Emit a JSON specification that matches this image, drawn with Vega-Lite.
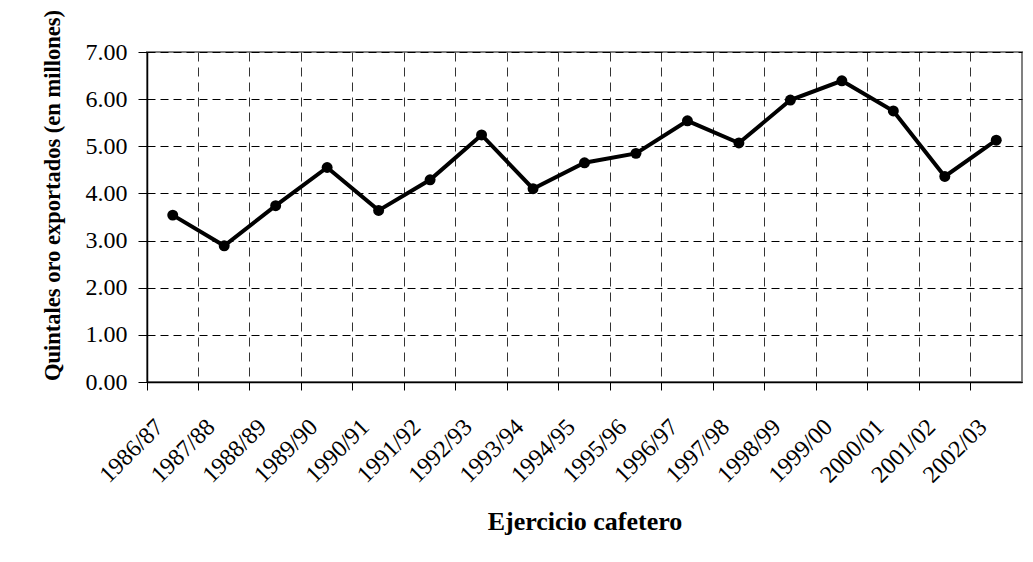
{
  "$schema": "https://vega.github.io/schema/vega-lite/v6.json",
  "width": 875,
  "height": 330,
  "autosize": "none",
  "padding": {"left": 147, "top": 52, "right": 11, "bottom": 180},
  "background": "white",
  "config": {
    "font": "Liberation Serif",
    "view": {"stroke": "#808080", "strokeWidth": 2}
  },
  "data": {
    "values": [
      {"ejercicio": "1986/87", "quintales": 3.54},
      {"ejercicio": "1987/88", "quintales": 2.89},
      {"ejercicio": "1988/89", "quintales": 3.74},
      {"ejercicio": "1989/90", "quintales": 4.55},
      {"ejercicio": "1990/91", "quintales": 3.64},
      {"ejercicio": "1991/92", "quintales": 4.29},
      {"ejercicio": "1992/93", "quintales": 5.24},
      {"ejercicio": "1993/94", "quintales": 4.10},
      {"ejercicio": "1994/95", "quintales": 4.65},
      {"ejercicio": "1995/96", "quintales": 4.85},
      {"ejercicio": "1996/97", "quintales": 5.54},
      {"ejercicio": "1997/98", "quintales": 5.07},
      {"ejercicio": "1998/99", "quintales": 5.98},
      {"ejercicio": "1999/00", "quintales": 6.39},
      {"ejercicio": "2000/01", "quintales": 5.75},
      {"ejercicio": "2001/02", "quintales": 4.36},
      {"ejercicio": "2002/03", "quintales": 5.13}
    ]
  },
  "encoding": {
    "x": {
      "field": "ejercicio",
      "type": "ordinal",
      "sort": null,
      "scale": {"type": "band", "paddingInner": 0, "paddingOuter": 0},
      "axis": {
        "title": "Ejercicio cafetero",
        "titleFont": "Liberation Serif",
        "titleFontSize": 26,
        "titleFontWeight": "bold",
        "titleColor": "black",
        "titlePadding": 21,
        "bandPosition": 0,
        "labelAngle": -45,
        "labelAlign": "right",
        "labelBaseline": "middle",
        "labelOffset": -13,
        "labelPadding": 33,
        "labelFontSize": 24,
        "labelColor": "black",
        "labelFont": "Liberation Serif",
        "tickColor": "black",
        "tickSize": 8,
        "tickWidth": 1,
        "domainColor": "black",
        "domainWidth": 1.5,
        "grid": true,
        "gridColor": "#333333",
        "gridDash": [9, 6],
        "gridWidth": 1
      }
    },
    "y": {
      "field": "quintales",
      "type": "quantitative",
      "scale": {"domain": [0, 7], "nice": false, "zero": true},
      "axis": {
        "title": "Quintales oro exportados (en millones)",
        "titleFont": "Liberation Serif",
        "titleFontSize": 22.5,
        "titleFontWeight": "bold",
        "titleColor": "black",
        "titlePadding": 21,
        "titleY": 143,
        "values": [0, 1, 2, 3, 4, 5, 6, 7],
        "format": ".2f",
        "labelFontSize": 24,
        "labelColor": "black",
        "labelFont": "Liberation Serif",
        "labelPadding": 11,
        "tickColor": "black",
        "tickSize": 9,
        "tickWidth": 1,
        "domainColor": "black",
        "domainWidth": 1.5,
        "grid": true,
        "gridColor": "black",
        "gridDash": [8, 5],
        "gridWidth": 1
      }
    }
  },
  "layer": [
    {"mark": {"type": "line", "color": "black", "strokeWidth": 4}},
    {"mark": {"type": "point", "filled": true, "color": "black", "opacity": 1, "size": 120}}
  ]
}
